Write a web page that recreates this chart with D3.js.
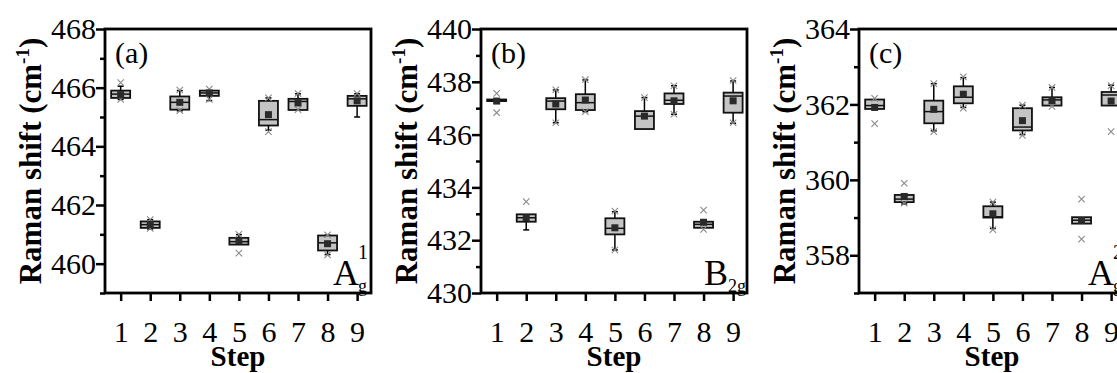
<!DOCTYPE html>
<html><head><meta charset="utf-8">
<script src="https://cdn.jsdelivr.net/npm/d3@7"></script>
<style>
html,body{margin:0;padding:0;background:#fff;overflow:hidden;}
svg{display:block;}
svg text{font-family:"Liberation Serif","Times New Roman",Times,serif !important;fill:#000;}
</style></head>
<body>
<svg id="chart" width="1117" height="373"></svg>
<script>
// ---- data ----
const steps = [1,2,3,4,5,6,7,8,9];

// panel (a) A_g^1
const aTicks = [460,462,464,466,468];
const aMinor = [459,461,463,465,467];
const aQ1   = [465.65,461.22,465.25,465.72,460.65,464.71,465.24,460.45,465.38];
const aMed  = [465.78,461.33,465.50,465.82,460.75,464.91,465.53,460.71,465.62];
const aQ3   = [465.90,461.44,465.70,465.90,460.88,465.55,465.62,460.96,465.72];
const aLo   = [465.60,461.18,465.21,465.56,460.65,464.55,465.24,460.31,465.00];
const aHi   = [466.05,461.50,465.90,465.90,460.99,465.65,465.79,460.97,465.79];
const aMean = [465.76,461.33,465.50,465.82,460.78,465.08,465.48,460.68,465.55];
const aXHi  = [466.17,461.50,465.92,465.95,461.00,465.65,465.80,460.98,465.80];
const aXLo  = [465.60,461.20,465.22,465.60,460.36,464.50,465.25,460.30,null];

// panel (b) B_2g
const bTicks = [430,432,434,436,438,440];
const bMinor = [431,433,435,437,439];
const bQ1   = [437.27,432.70,436.96,436.93,432.22,436.21,437.16,432.47,436.83];
const bMed  = [437.30,432.85,437.27,437.21,432.45,436.70,437.30,432.60,437.46];
const bQ3   = [437.33,432.98,437.38,437.53,432.83,436.89,437.56,432.70,437.59];
const bLo   = [437.27,432.39,436.45,436.87,431.63,436.21,436.77,432.47,436.43];
const bHi   = [437.33,432.98,437.69,438.07,433.08,437.40,437.85,432.70,438.03];
const bMean = [437.27,432.85,437.16,437.31,432.47,436.70,437.28,432.68,437.28];
const bXHi  = [437.56,433.46,437.70,438.08,433.10,437.40,437.85,433.14,438.05];
const bXLo  = [436.83,null,436.45,436.87,431.63,null,436.77,432.41,436.45];

// panel (c) A_g^2
const cTicks = [358,360,362,364];
const cMinor = [357,359,361,363];
const cQ1   = [361.88,359.41,361.50,362.03,359.00,361.31,361.97,358.84,361.97];
const cMed  = [361.97,359.49,361.81,362.19,359.02,361.40,362.12,358.93,362.25];
const cQ3   = [362.13,359.60,362.10,362.48,359.30,361.90,362.19,359.01,362.33];
const cLo   = [361.88,359.36,361.30,361.92,358.71,361.20,361.97,358.84,361.97];
const cHi   = [362.13,359.60,362.55,362.71,359.41,361.98,362.45,359.01,362.51];
const cMean = [361.92,359.56,361.87,362.27,359.10,361.57,362.10,358.92,362.09];
const cXHi  = [362.16,359.91,362.55,362.73,359.41,361.98,362.45,359.49,362.50];
const cXLo  = [361.49,359.38,361.28,361.90,358.68,361.18,361.95,358.43,361.28];

const panels = [
  {left:105, dom:[459,468], ticks:aTicks, minor:aMinor, q1:aQ1, med:aMed, q3:aQ3, lo:aLo, hi:aHi, mean:aMean, xhi:aXHi, xlo:aXLo,
   tag:"(a)", main:"A", sup:"1", sub:"g", annX:228},
  {left:481, dom:[430,440], ticks:bTicks, minor:bMinor, q1:bQ1, med:bMed, q3:bQ3, lo:bLo, hi:bHi, mean:bMean, xhi:bXHi, xlo:bXLo,
   tag:"(b)", main:"B", sup:null, sub:"2g", annX:223},
  {left:859, dom:[357,364], ticks:cTicks, minor:cMinor, q1:cQ1, med:cMed, q3:cQ3, lo:cLo, hi:cHi, mean:cMean, xhi:cXHi, xlo:cXLo,
   tag:"(c)", main:"A", sup:"2", sub:"g", annX:229}
];

const FONT = "'Liberation Serif','Times New Roman',Times,serif";
const svg = d3.select("#chart");
const plotTop = 29, plotBottom = 293, W = 266;

panels.forEach(p => {
  const g = svg.append("g").attr("transform", `translate(${p.left},0)`).attr("font-family", FONT);
  const x = d3.scaleLinear().domain([0.47, 9.47]).range([0, W]);
  const y = d3.scaleLinear().domain(p.dom).range([plotBottom, plotTop]);

  const ym = g.append("g").call(d3.axisLeft(y).tickValues(p.minor).tickSize(5).tickFormat(""));
  ym.select(".domain").remove();
  ym.selectAll("line").attr("stroke-width", 2.5);
  const ya = g.append("g").call(d3.axisLeft(y).tickValues(p.ticks).tickSize(9).tickPadding(0).tickFormat(d3.format("d")));
  ya.attr("font-family", FONT);
  ya.select(".domain").remove();
  ya.selectAll("line").attr("stroke-width", 2.5);
  ya.selectAll("text").attr("font-size", 30).style("font-family", FONT);
  const xa = g.append("g").attr("transform", `translate(0,${plotBottom})`)
    .call(d3.axisBottom(x).tickValues(steps).tickSize(8).tickPadding(20).tickFormat(d3.format("d")));
  xa.attr("font-family", FONT);
  xa.select(".domain").remove();
  xa.selectAll("line").attr("stroke-width", 2.5);
  xa.selectAll("text").attr("font-size", 30).style("font-family", FONT);

  const bw = 19, cap = 6;
  const boxes = g.append("g");
  steps.forEach((s, i) => {
    const cx = x(s);
    const b = boxes.append("g");
    if (p.hi[i] > p.q3[i]) {
      b.append("line").attr("x1", cx).attr("x2", cx).attr("y1", y(p.q3[i])).attr("y2", y(p.hi[i]))
        .attr("stroke", "#000").attr("stroke-width", 1.5);
      b.append("line").attr("x1", cx - cap/2).attr("x2", cx + cap/2).attr("y1", y(p.hi[i])).attr("y2", y(p.hi[i]))
        .attr("stroke", "#000").attr("stroke-width", 1.5);
    }
    if (p.lo[i] < p.q1[i]) {
      b.append("line").attr("x1", cx).attr("x2", cx).attr("y1", y(p.q1[i])).attr("y2", y(p.lo[i]))
        .attr("stroke", "#000").attr("stroke-width", 1.5);
      b.append("line").attr("x1", cx - cap/2).attr("x2", cx + cap/2).attr("y1", y(p.lo[i])).attr("y2", y(p.lo[i]))
        .attr("stroke", "#000").attr("stroke-width", 1.5);
    }
    const y1 = y(p.q3[i]), y2 = y(p.q1[i]);
    b.append("rect").attr("x", cx - bw/2).attr("y", y1).attr("width", bw).attr("height", Math.max(y2 - y1, 1.5))
      .attr("fill", "#c4c4c4").attr("stroke", "#111").attr("stroke-width", 1.8);
    b.append("line").attr("x1", cx - bw/2).attr("x2", cx + bw/2).attr("y1", y(p.med[i])).attr("y2", y(p.med[i]))
      .attr("stroke", "#111").attr("stroke-width", 1.5);
    [p.xhi[i], p.xlo[i]].forEach(v => {
      if (v == null) return;
      const yy = y(v), r = 3.2;
      b.append("path").attr("d", `M${cx-r},${yy-r}L${cx+r},${yy+r}M${cx-r},${yy+r}L${cx+r},${yy-r}`)
        .attr("stroke", "#8a8a8a").attr("stroke-width", 1.1).attr("fill", "none");
    });
    b.append("rect").attr("x", cx - 3.5).attr("y", y(p.mean[i]) - 3.5).attr("width", 7).attr("height", 7)
      .attr("fill", "#2a2a2a");
  });

  g.append("rect").attr("x", 0).attr("y", plotTop).attr("width", W).attr("height", plotBottom - plotTop)
    .attr("fill", "none").attr("stroke", "#000").attr("stroke-width", 2.8);

  g.append("text").attr("x", 10).attr("y", 63).attr("font-size", 30).text(p.tag);

  g.append("text").attr("x", p.annX).attr("y", 285).attr("font-size", 36).text(p.main);
  if (p.sup) {
    g.append("text").attr("x", p.annX + 25).attr("y", 259).attr("font-size", 20).text(p.sup);
  }
  g.append("text").attr("x", p.annX + (p.main === "B" ? 24 : 25)).attr("y", 292).attr("font-size", 18).text(p.sub);

  const yt = g.append("text").attr("transform", `translate(-64,${(plotTop+plotBottom)/2}) rotate(-90)`)
    .attr("text-anchor", "middle").attr("font-size", 31).attr("font-weight", "bold");
  yt.append("tspan").text("Raman shift (cm");
  yt.append("tspan").attr("font-size", 19).attr("dy", -12).text("-1");
  yt.append("tspan").attr("dy", 12).text(")");

  g.append("text").attr("x", W/2).attr("y", 366).attr("text-anchor", "middle")
    .attr("font-size", 29).attr("font-weight", "bold").text("Step");
});
</script>
</body></html>
